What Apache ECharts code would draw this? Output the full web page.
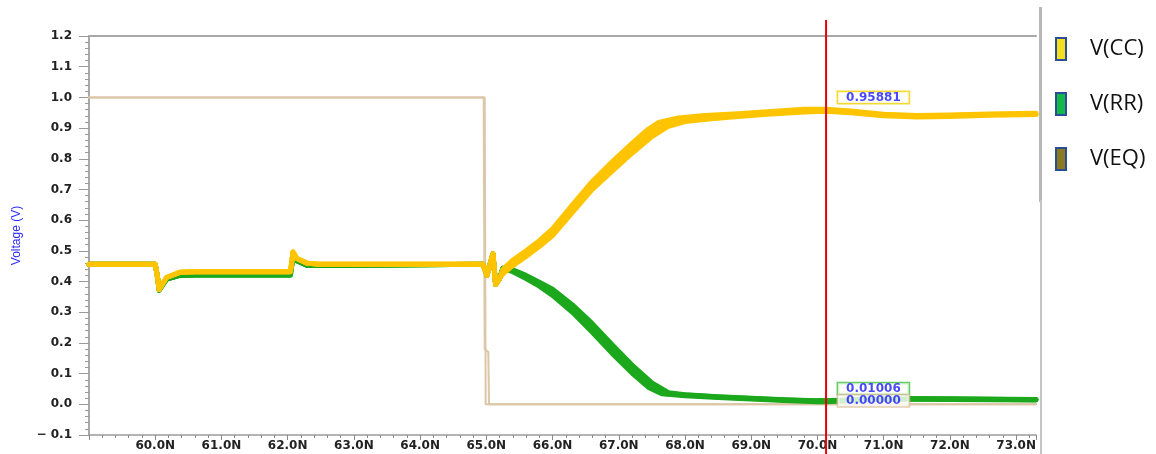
<!DOCTYPE html>
<html>
<head>
<meta charset="utf-8">
<title>Voltage transient</title>
<script src="https://cdn.jsdelivr.net/npm/echarts@6/dist/echarts.min.js"></script>
<style>
  html, body { margin: 0; padding: 0; background: #fff; }
  #chart { width: 1156px; height: 454px; }
</style>
</head>
<body>
<div id="chart"></div>
<script>
// Time axis (ns) and voltage axis
const timeMin = 59.0;
const timeMax = 73.3;
const voltMin = -0.1;
const voltMax = 1.2;

// Shared start of the Monte Carlo runs, [time ns, volts]
const ccHead = [[59.0,0.456],[60.0,0.456],[60.03,0.42],[60.06,0.374],[60.17,0.413],[60.37,0.430],[60.6,0.432],[62.04,0.432],[62.06,0.46],[62.08,0.496],[62.14,0.475],[62.29,0.46],[62.47,0.456],[64.95,0.456],[65.01,0.42],[65.06,0.46],[65.10,0.49],[65.14,0.39],[65.2,0.41]];
const rrHead = [[59.0,0.456],[60.0,0.456],[60.03,0.42],[60.06,0.372],[60.17,0.408],[60.37,0.420],[60.6,0.421],[62.04,0.421],[62.06,0.45],[62.08,0.49],[62.14,0.468],[62.29,0.453],[62.64,0.452],[64.95,0.456],[65.01,0.42],[65.06,0.46],[65.10,0.49],[65.14,0.39],[65.2,0.41]];

// V(CC) rising edge, three runs
const ccFast = [[65.25,0.44],[65.4,0.47],[65.6,0.50],[65.8,0.533],[66.0,0.572],[66.3,0.65],[66.6,0.726],[66.9,0.79],[67.2,0.85],[67.45,0.897],[67.6,0.918],[67.9,0.933],[68.3,0.941],[68.8,0.947],[69.3,0.954],[69.8,0.961],[70.13,0.961],[70.5,0.956],[71.0,0.945],[71.5,0.941],[72.0,0.943],[72.6,0.946],[73.3,0.948]];
const ccMid  = [[65.25,0.43],[65.4,0.46],[65.6,0.49],[65.8,0.524],[66.0,0.561],[66.3,0.638],[66.6,0.713],[66.9,0.775],[67.2,0.834],[67.5,0.887],[67.7,0.912],[67.9,0.925],[68.3,0.935],[68.8,0.943],[69.3,0.95],[69.8,0.956],[70.13,0.95881],[70.5,0.953],[71.0,0.943],[71.5,0.939],[72.0,0.941],[72.6,0.944],[73.3,0.946]];
const ccSlow = [[65.25,0.425],[65.4,0.452],[65.6,0.482],[65.8,0.514],[66.0,0.55],[66.3,0.625],[66.6,0.70],[66.9,0.76],[67.2,0.818],[67.5,0.872],[67.75,0.906],[68.0,0.921],[68.4,0.93],[68.8,0.938],[69.3,0.946],[69.8,0.952],[70.13,0.955],[70.5,0.95],[71.0,0.94],[71.5,0.936],[72.0,0.938],[72.6,0.942],[73.3,0.944]];

// V(RR) falling edge, three runs
const rrFast = [[65.25,0.443],[65.4,0.432],[65.6,0.41],[65.8,0.385],[66.0,0.355],[66.3,0.3],[66.6,0.235],[66.9,0.166],[67.2,0.102],[67.45,0.055],[67.65,0.034],[68.0,0.028],[68.5,0.022],[69.0,0.017],[69.5,0.012],[70.0,0.008],[70.13,0.008],[70.6,0.013],[71.0,0.017],[72.0,0.016],[73.3,0.014]];
const rrMid  = [[65.25,0.443],[65.4,0.435],[65.6,0.415],[65.8,0.392],[66.0,0.365],[66.3,0.312],[66.6,0.25],[66.9,0.18],[67.2,0.115],[67.5,0.06],[67.7,0.035],[68.0,0.03],[68.5,0.024],[69.0,0.019],[69.5,0.014],[70.0,0.011],[70.13,0.01006],[70.6,0.015],[71.0,0.018],[72.0,0.017],[73.3,0.015]];
const rrSlow = [[65.25,0.443],[65.4,0.438],[65.6,0.42],[65.8,0.398],[66.0,0.375],[66.3,0.324],[66.6,0.263],[66.9,0.194],[67.2,0.128],[67.5,0.07],[67.75,0.038],[68.0,0.031],[68.5,0.025],[69.0,0.02],[69.5,0.015],[70.0,0.012],[70.13,0.012],[70.6,0.016],[71.0,0.019],[72.0,0.018],[73.3,0.016]];

// V(EQ) step down, two runs
const eqEarly = [[59.0,1.0],[64.96,1.0],[64.975,0.18],[65.03,0.17],[65.04,0.0],[73.3,0.0]];
const eqLate  = [[59.0,1.0],[64.975,1.0],[64.99,0.0],[73.3,0.0]];

// Cursor readout
const cursorTime = 70.13;
const cursorNames = ['V(CC)', 'V(RR)', 'V(EQ)'];
const cursorValues = [0.95881, 0.01006, 0.00000];

const colors = { cc: '#ffc400', rr: '#1ca81c', eq: '#dcc6a8' };
const legendIcon = { cc: '#f2e020', rr: '#12b84a', eq: '#8c7a1e' };

function lineSeries(name, data, color, width, z) {
  return {
    type: 'line', name: name, data: data, xAxisIndex: 0, yAxisIndex: 0,
    showSymbol: false, symbol: 'none', silent: true, z: z,
    lineStyle: { color: color, width: width, join: 'round', cap: 'round' },
    itemStyle: { color: color }
  };
}

// Readout box placed to the right of the cursor; pos is the box's top-left
// relative to the reading's point
function readout(value, idx, border, pos) {
  return {
    type: 'scatter', name: 'cursor ' + cursorNames[idx], xAxisIndex: 0, yAxisIndex: 0,
    data: [[cursorTime, value]], symbolSize: 2, z: 20, zlevel: 1, silent: true,
    itemStyle: { color: 'rgba(0,0,0,0)' },
    label: {
      show: true, position: pos, align: 'left', verticalAlign: 'top',
      formatter: p => p.value[1].toFixed(5),
      color: '#1a1aff', fontFamily: 'DejaVu Sans', fontWeight: 'bold', fontSize: 12,
      backgroundColor: '#ffffff', borderColor: border, borderWidth: 1.5,
      padding: [0, 8, 0, 8], lineHeight: 11
    },
    labelLayout: { hideOverlap: false }
  };
}

const chart = echarts.init(document.getElementById('chart'), null, { renderer: 'canvas' });

const option = {
  animation: false,
  backgroundColor: '#ffffff',
  grid: [
    { left: 89, right: 120, top: 36, bottom: 19 },
    { left: 89, right: 120, top: 20, bottom: 0 }
  ],
  legend: {
    orient: 'vertical', left: 1050, top: 32,
    itemWidth: 10, itemHeight: 22, itemGap: 31, icon: 'rect',
    selectedMode: false,
    textStyle: { fontFamily: 'Open Sans', fontSize: 22, color: '#111', padding: [0, 0, 0, 19] },
    data: [
      { name: 'V(CC)', itemStyle: { color: legendIcon.cc, borderColor: '#2c4c96', borderWidth: 2 } },
      { name: 'V(RR)', itemStyle: { color: legendIcon.rr, borderColor: '#2c4c96', borderWidth: 2 } },
      { name: 'V(EQ)', itemStyle: { color: legendIcon.eq, borderColor: '#2c4c96', borderWidth: 2 } }
    ]
  },
  xAxis: [
    {
      type: 'value', gridIndex: 0, min: timeMin, max: timeMax, interval: 1,
      axisLine: { show: true, onZero: false, lineStyle: { color: '#9a9a9a', width: 1.5 } },
      axisTick: { show: true, length: 5, lineStyle: { color: '#8a8a8a' } },
      minorTick: { show: true, splitNumber: 5, length: 3, lineStyle: { color: '#8a8a8a' } },
      splitLine: { show: false },
      axisLabel: {
        showMinLabel: false, showMaxLabel: false, margin: 5,
        color: '#222', fontFamily: 'DejaVu Sans', fontWeight: 'bold', fontSize: 12,
        formatter: v => v.toFixed(1) + 'N'
      }
    },
    {
      type: 'value', gridIndex: 0, min: timeMin, max: timeMax, position: 'top',
      axisLine: { show: true, onZero: false, lineStyle: { color: '#a8a8a8', width: 2 } },
      axisTick: { show: false }, axisLabel: { show: false }, splitLine: { show: false }
    },
    {
      type: 'value', gridIndex: 1, min: timeMin, max: timeMax, show: false
    }
  ],
  yAxis: [
    {
      type: 'value', gridIndex: 0, min: voltMin, max: voltMax, interval: 0.1,
      name: 'Voltage (V)', nameLocation: 'middle', nameGap: 66, nameRotate: 90,
      nameTextStyle: { color: '#2a2aff', fontFamily: 'Liberation Sans Narrow, Liberation Sans', fontSize: 12 },
      axisLine: { show: true, onZero: false, lineStyle: { color: '#a8a8a8', width: 2 } },
      axisTick: { show: true, length: 10, lineStyle: { color: '#9a9a9a' } },
      minorTick: { show: true, splitNumber: 5, length: 4, lineStyle: { color: '#9a9a9a' } },
      splitLine: { show: false },
      axisLabel: {
        margin: 17, color: '#222', fontFamily: 'DejaVu Sans', fontWeight: 'bold', fontSize: 12,
        formatter: v => (v < -1e-9 ? '\u2212 ' + Math.abs(v).toFixed(1) : Math.abs(v).toFixed(1))
      }
    },
    { type: 'value', gridIndex: 1, min: 0, max: 1, show: false }
  ],
  graphic: [
    { type: 'rect', left: 1039, top: 7, shape: { width: 3, height: 195 }, style: { fill: '#b8b8b8' }, silent: true },
    { type: 'rect', left: 1040, top: 200, shape: { width: 2, height: 254 }, style: { fill: '#c4c4c4' }, silent: true }
  ],
  series: [
    lineSeries('V(EQ)', eqEarly, colors.eq, 2, 2),
    lineSeries('V(EQ)', eqLate, colors.eq, 2, 2),
    lineSeries('V(RR)', rrHead.concat(rrSlow), colors.rr, 5, 3),
    lineSeries('V(RR)', rrHead.concat(rrMid), colors.rr, 5, 3),
    lineSeries('V(RR)', rrHead.concat(rrFast), colors.rr, 5, 3),
    lineSeries('V(CC)', ccHead.concat(ccSlow), colors.cc, 5, 4),
    lineSeries('V(CC)', ccHead.concat(ccMid), colors.cc, 5, 4),
    lineSeries('V(CC)', ccHead.concat(ccFast), colors.cc, 5, 4),
    {
      type: 'line', name: 'cursor', xAxisIndex: 2, yAxisIndex: 1,
      data: [[cursorTime, 0], [cursorTime, 1]], showSymbol: false, symbol: 'none', silent: true, z: 10,
      lineStyle: { color: '#e8000a', width: 2 }
    },
    readout(cursorValues[0], 0, '#f2cf00', [13, -17]),
    readout(cursorValues[1], 1, '#3cbf3c', [13, -17]),
    readout(cursorValues[2], 2, '#d8c09c', [13, -8])
  ]
};

chart.setOption(option);
</script>
</body>
</html>
